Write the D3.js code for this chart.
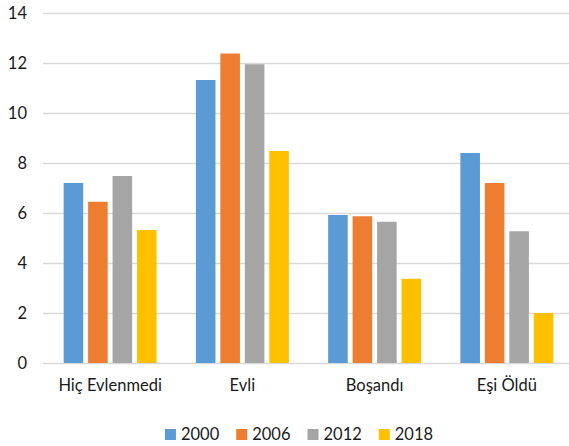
<!DOCTYPE html>
<html><head><meta charset="utf-8">
<script src="https://cdn.jsdelivr.net/npm/d3@7"></script>
<style>body{margin:0;background:#fff}svg{display:block}text{font-family:Lato,"Open Sans",sans-serif;fill:#1a1a1a}</style>
</head><body><svg id="c" width="569" height="446"></svg>
<script>
const categories = ["Hiç Evlenmedi", "Evli", "Boşandı", "Eşi Öldü"];
const seriesNames = ["2000", "2006", "2012", "2018"];
const s2000 = [7.2, 11.32, 5.92, 8.4];
const s2006 = [6.45, 12.38, 5.87, 7.2];
const s2012 = [7.48, 11.95, 5.65, 5.27];
const s2018 = [5.32, 8.48, 3.37, 2.0];
const yTicks = [0, 2, 4, 6, 8, 10, 12, 14];
const colors = ["#5B9BD5", "#ED7D31", "#A5A5A5", "#FFC000"];

const seriesValues = [s2000, s2006, s2012, s2018];
const svg = d3.select("#c");
const fs = 16.5;

const y = d3.scaleLinear().domain([0, 14]).range([363, 13]);
const x0 = d3.scaleBand().domain(categories).range([44, 573]).paddingInner(0.26).paddingOuter(0.13);
const x1 = d3.scaleBand().domain(seriesNames).range([0, x0.bandwidth()]).paddingInner(0.2).paddingOuter(0.1);
const color = d3.scaleOrdinal().domain(seriesNames).range(colors);

// gridlines
const yAxis = d3.axisLeft(y).tickValues(yTicks).tickSize(-(573 - 43)).tickPadding(16);
const gy = svg.append("g").attr("transform", "translate(43,0)").call(yAxis);
gy.select(".domain").remove();
gy.selectAll(".tick line").attr("stroke", "#d9d9d9").attr("stroke-width", 1.4);
gy.selectAll(".tick text").attr("font-size", fs).attr("fill", "#1a1a1a").attr("font-family", "Lato");

// bars
const groups = svg.append("g").selectAll("g").data(categories).join("g")
  .attr("transform", d => `translate(${x0(d)},0)`);
groups.selectAll("rect").data((d, i) => seriesNames.map((s, j) => ({s, v: seriesValues[j][i]})))
  .join("rect")
  .attr("x", d => x1(d.s)).attr("width", x1.bandwidth())
  .attr("y", d => y(d.v)).attr("height", d => y(0) - y(d.v))
  .attr("fill", d => color(d.s));

// category axis
const xAxis = d3.axisBottom(x0).tickSize(0).tickPadding(16);
const gx = svg.append("g").attr("transform", "translate(0,363)").call(xAxis);
gx.select(".domain").remove();
gx.selectAll(".tick text").attr("font-size", fs).attr("fill", "#1a1a1a").attr("font-family", "Lato");

// legend
const lg = svg.append("g");
let cx = 0;
seriesNames.forEach(s => {
  const g = lg.append("g");
  g.append("rect").attr("x", 0).attr("y", -5.5).attr("width", 11).attr("height", 11).attr("fill", color(s));
  const t = g.append("text").attr("x", 16).attr("y", 0).attr("dy", "0.35em").attr("font-size", fs).text(s);
  const w = 16 + t.node().getComputedTextLength();
  g.attr("transform", `translate(${cx},0)`);
  cx += w + 17;
});
const total = cx - 17;
lg.attr("transform", `translate(${299 - total / 2},434.5)`);
</script></body></html>
